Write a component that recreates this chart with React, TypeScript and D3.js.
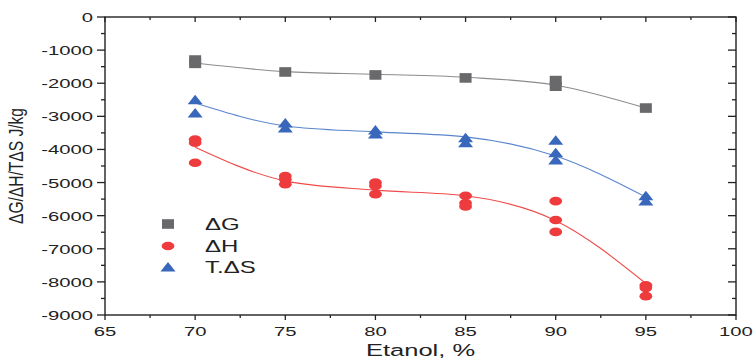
import React, { useEffect, useRef } from "react";
import * as d3 from "d3";

// axis ticks
const xTicks = [65, 70, 75, 80, 85, 90, 95, 100];
const yTicks = [0, -1000, -2000, -3000, -4000, -5000, -6000, -7000, -8000, -9000];

// measured points: [etanol %, value J/kg]
const dG = [
  [70, -1300], [70, -1400],
  [75, -1660],
  [80, -1750],
  [85, -1840],
  [90, -1920], [90, -2090],
  [95, -2750],
];
const dH = [
  [70, -3700], [70, -3800], [70, -4400],
  [75, -4800], [75, -4900], [75, -5050],
  [80, -5000], [80, -5100], [80, -5350],
  [85, -5400], [85, -5620], [85, -5720],
  [90, -5560], [90, -6130], [90, -6490],
  [95, -8100], [95, -8180], [95, -8430],
];
const tdS = [
  [70, -2500], [70, -2900],
  [75, -3200], [75, -3350],
  [80, -3410], [80, -3530],
  [85, -3650], [85, -3800],
  [90, -3720], [90, -4100], [90, -4320],
  [95, -5400], [95, -5560],
];

// fitted curves
const fitX = [70, 75, 80, 85, 90, 95];
const dGFit = [-1390, -1650, -1730, -1820, -2060, -2750];
const dHFit = [-3930, -4950, -5230, -5400, -6150, -8050];
const tdSFit = [-2600, -3290, -3470, -3620, -4200, -5440];

const legendLabels = ["ΔG", "ΔH", "T.ΔS"];

const SX = 1.5; // picture is stretched horizontally

const App = () => {
  const ref = useRef(null);

  useEffect(() => {
    const width = 754;
    const height = 361;
    const margin = { top: 17, right: 18, bottom: 46, left: 105 };

    const svg = d3.select(ref.current);
    svg.selectAll("*").remove();
    svg.attr("width", width).attr("height", height);

    const x = d3
      .scaleLinear()
      .domain([65, 100])
      .range([margin.left, width - margin.right]);
    const y = d3
      .scaleLinear()
      .domain([-9000, 0])
      .range([height - margin.bottom, margin.top]);

    const x0 = x(65), x1 = x(100), y0 = y(-9000), y1 = y(0);
    const axisColor = "#222";

    const g = svg.append("g");

    // frame
    g.append("rect")
      .attr("x", x0)
      .attr("y", y1)
      .attr("width", x1 - x0)
      .attr("height", y0 - y1)
      .attr("fill", "none")
      .attr("stroke", axisColor)
      .attr("stroke-width", 1.4);

    // x ticks (major + minor)
    const xMinor = d3.range(67.5, 100, 5);
    const tickLine = (x1_, y1_, x2_, y2_) =>
      g.append("line")
        .attr("x1", x1_).attr("y1", y1_).attr("x2", x2_).attr("y2", y2_)
        .attr("stroke", axisColor).attr("stroke-width", 1.3);

    xTicks.forEach((t) => {
      tickLine(x(t), y0, x(t), y0 + 5);
      tickLine(x(t), y1, x(t), y1 + 5);
    });
    xMinor.forEach((t) => {
      tickLine(x(t), y0, x(t), y0 + 3);
      tickLine(x(t), y1, x(t), y1 + 3);
    });
    const yMinor = d3.range(-500, -9000, -1000);
    yTicks.forEach((t) => {
      tickLine(x0 - 8, y(t), x0, y(t));
      tickLine(x1 - 8, y(t), x1, y(t));
    });
    yMinor.forEach((t) => {
      tickLine(x0 - 4, y(t), x0, y(t));
      tickLine(x1 - 4, y(t), x1, y(t));
    });

    const font = "'Liberation Sans', Arial, sans-serif";
    const stretched = (tx, ty, txt, size, anchor) =>
      g.append("text")
        .attr("transform", `translate(${tx},${ty}) scale(${SX},1)`)
        .attr("text-anchor", anchor)
        .attr("font-family", font)
        .attr("font-size", size)
        .attr("fill", axisColor)
        .text(txt);

    xTicks.forEach((t) => stretched(x(t), y0 + 21, String(t), 13.5, "middle"));
    yTicks.forEach((t) => stretched(x0 - 12, y(t) + 5, String(t), 13.5, "end"));

    // axis titles
    stretched((x0 + x1) / 2, 356, "Etanol, %", 17, "middle");
    g.append("text")
      .attr("transform", `translate(23,${(y0 + y1) / 2}) scale(${SX},1) rotate(-90)`)
      .attr("text-anchor", "middle")
      .attr("font-family", font)
      .attr("font-size", 14)
      .attr("textLength", 116)
      .attr("lengthAdjust", "spacingAndGlyphs")
      .attr("fill", axisColor)
      .text("ΔG/ΔH/TΔS J/kg");

    const series = [
      { pts: dG, fit: dGFit, fill: "#69696b", line: "#8c8c8c", shape: "square" },
      { pts: dH, fit: dHFit, fill: "#ee3b3d", line: "#f04a4a", shape: "circle" },
      { pts: tdS, fit: tdSFit, fill: "#3867bb", line: "#5a85cc", shape: "triangle" },
    ];

    const line = d3
      .line()
      .x((d) => x(d[0]))
      .y((d) => y(d[1]))
      .curve(d3.curveMonotoneX);

    const drawMarker = (sel, shape, fill) => {
      if (shape === "square") {
        sel.append("rect")
          .attr("x", -6).attr("y", -4.8)
          .attr("width", 12).attr("height", 9.6)
          .attr("fill", fill);
      } else if (shape === "circle") {
        sel.append("ellipse")
          .attr("rx", 6.4).attr("ry", 4.3)
          .attr("fill", fill);
      } else {
        sel.append("path")
          .attr("d", "M0,-5 L7.5,4.5 L-7.5,4.5 Z")
          .attr("fill", fill);
      }
    };

    series.forEach((s) => {
      g.append("path")
        .datum(fitX.map((fx, i) => [fx, s.fit[i]]))
        .attr("d", line)
        .attr("fill", "none")
        .attr("stroke", s.line)
        .attr("stroke-width", 1.1);
    });

    series.forEach((s) => {
      g.selectAll(null)
        .data(s.pts)
        .enter()
        .append("g")
        .attr("transform", (d) => `translate(${x(d[0])},${y(d[1])})`)
        .each(function () {
          drawMarker(d3.select(this), s.shape, s.fill);
        });
    });

    // legend
    const legendY = [224, 246, 267];
    series.forEach((s, i) => {
      const lg = g.append("g").attr("transform", `translate(168,${legendY[i]})`);
      drawMarker(lg, s.shape, s.fill);
      stretched(205, legendY[i] + 6, legendLabels[i], 16, "start");
    });
  }, []);

  return (
    <div style={{ position: "absolute", left: 0, top: 0 }}>
      <svg ref={ref} style={{ display: "block" }} />
    </div>
  );
};

export default App;
